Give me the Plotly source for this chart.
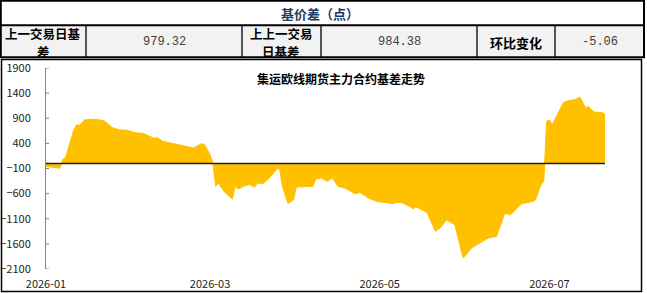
import plotly.graph_objects as go

# ---------------- data ----------------
dates = [
    "2026-01-01", "2026-01-05", "2026-01-06", "2026-01-07", "2026-01-08", "2026-01-11",
    "2026-01-12", "2026-01-13", "2026-01-15", "2026-01-19", "2026-01-22", "2026-01-25",
    "2026-01-27", "2026-01-29", "2026-01-30", "2026-02-02", "2026-02-05", "2026-02-07",
    "2026-02-09", "2026-02-10", "2026-02-12", "2026-02-23", "2026-02-26", "2026-02-27",
    "2026-03-01", "2026-03-02", "2026-03-03", "2026-03-04", "2026-03-06", "2026-03-09",
    "2026-03-10", "2026-03-11", "2026-03-13", "2026-03-15", "2026-03-17", "2026-03-18",
    "2026-03-20", "2026-03-22", "2026-03-25", "2026-03-26", "2026-03-27", "2026-03-29",
    "2026-03-31", "2026-04-01", "2026-04-02", "2026-04-07", "2026-04-08", "2026-04-10",
    "2026-04-12", "2026-04-14", "2026-04-16", "2026-04-19", "2026-04-22", "2026-04-24",
    "2026-04-27", "2026-04-30", "2026-05-06", "2026-05-07", "2026-05-09", "2026-05-12",
    "2026-05-13", "2026-05-14", "2026-05-18", "2026-05-21", "2026-05-23", "2026-05-25",
    "2026-05-28", "2026-05-30", "2026-05-31", "2026-06-01", "2026-06-03", "2026-06-07",
    "2026-06-09", "2026-06-12", "2026-06-15", "2026-06-17", "2026-06-21", "2026-06-25",
    "2026-06-26", "2026-06-28", "2026-06-29", "2026-06-30", "2026-07-01", "2026-07-02",
    "2026-07-06", "2026-07-07", "2026-07-08", "2026-07-10", "2026-07-12", "2026-07-14",
    "2026-07-15", "2026-07-17", "2026-07-20", "2026-07-21",
]
basis = [
    -60, -80, -95, 80, 110, 670,
    770, 760, 870, 880, 845, 710,
    675, 660, 665, 610, 600, 545,
    500, 515, 440, 310, 395, 375,
    175, 10, -455, -390, -555, -705,
    -455, -510, -455, -420, -470, -390,
    -400, -310, -110, -105, -455, -800,
    -720, -470, -465, -455, -310, -285,
    -355, -290, -455, -500, -600, -580,
    -690, -755, -800, -775, -780, -860,
    -905, -860, -975, -1350, -1270, -1120,
    -1220, -1650, -1880, -1815, -1680, -1550,
    -1485, -1450, -985, -1020, -800, -755,
    -720, -420, -355, 840, 870, 770,
    1205, 1235, 1250, 1270, 1320, 1105,
    1135, 1025, 1010, 979.32,
]

table_title = "基价差（点）"
table_labels = [["上一交易日基", "差"], ["上上一交易", "日基差"], ["环比变化"]]
table_values = ["979.32", "984.38", "-5.06"]
chart_title = "集运欧线期货主力合约基差走势"

y_ticks = [1900, 1400, 900, 400, -100, -600, -1100, -1600, -2100]

# ---------------- geometry helpers (pixel -> paper) ----------------
W, H = 647, 293
L, R, T, B = 46, 605, 68, 269


def px(x):
    return (x - L) / (R - L)


def py(y):
    return (B - y) / (B - T)


fig = go.Figure()

fig.add_trace(go.Scatter(
    x=dates, y=basis, mode="lines", fill="tozeroy",
    line=dict(color="#FFC000", width=1), fillcolor="#FFC000",
    hoverinfo="skip", showlegend=False,
))

shapes = []
annotations = []

# table background row 2
shapes.append(dict(type="rect", xref="paper", yref="paper",
                   x0=px(0.5), x1=px(644), y0=py(25.5), y1=py(57),
                   fillcolor="#F2F2F2", line=dict(width=0), layer="below"))
# outer table border
shapes.append(dict(type="rect", xref="paper", yref="paper",
                   x0=px(0.8), x1=px(644), y0=py(0.8), y1=py(57.3),
                   line=dict(color="black", width=2)))
# row separator
shapes.append(dict(type="line", xref="paper", yref="paper",
                   x0=px(0.8), x1=px(644), y0=py(25.3), y1=py(25.3),
                   line=dict(color="black", width=2)))
# column separators
for cx in [86, 242, 321, 477, 555]:
    shapes.append(dict(type="line", xref="paper", yref="paper",
                       x0=px(cx), x1=px(cx), y0=py(25.3), y1=py(57.3),
                       line=dict(color="black", width=1.3)))
# chart border
shapes.append(dict(type="rect", xref="paper", yref="paper",
                   x0=px(1.5), x1=px(641.5), y0=py(59.5), y1=py(291.5),
                   line=dict(color="black", width=1.5)))
# zero line
shapes.append(dict(type="line", xref="paper", yref="y",
                   x0=0, x1=1, y0=0, y1=0,
                   line=dict(color="#222222", width=1.5), layer="above"))
# small inward tick marks on the y axis line
for v in y_ticks:
    shapes.append(dict(type="line", xref="paper", yref="y",
                       x0=0, x1=px(L + 3), y0=v, y1=v,
                       line=dict(color="#868686", width=1)))

# table texts
annotations.append(dict(text="<b>" + table_title + "</b>", xref="paper", yref="paper",
                        x=px(320), y=py(13), showarrow=False,
                        font=dict(size=13, color="#1F3864", family="Noto Sans CJK SC"),
                        xanchor="center", yanchor="middle"))
label_centers = [43, 281, 516]
value_centers = [164, 399, 600]
for lines, val, lx, vx in zip(table_labels, table_values, label_centers, value_centers):
    if len(lines) == 1:
        ys = [42.5]
        fs = 13
    else:
        ys = [33.5, 51.5]
        fs = 12.5
    for txt, ty in zip(lines, ys):
        annotations.append(dict(text="<b>" + txt + "</b>", xref="paper", yref="paper",
                                x=px(lx), y=py(ty), showarrow=False, borderpad=0,
                                font=dict(size=fs, color="black", family="Noto Sans CJK SC"),
                                xanchor="center", yanchor="middle"))
    annotations.append(dict(text=val, xref="paper", yref="paper",
                            x=px(vx), y=py(42.5), showarrow=False,
                            font=dict(size=12, color="#404040", family="Liberation Mono"),
                            xanchor="center", yanchor="middle"))

annotations.append(dict(text="<b>" + chart_title + "</b>", xref="paper", yref="paper",
                        x=px(341), y=py(78), showarrow=False,
                        font=dict(size=12, color="black", family="Noto Sans CJK SC"),
                        xanchor="center", yanchor="middle"))

fig.update_layout(
    width=W, height=H,
    margin=dict(l=L, r=W - R, t=T, b=H - B, autoexpand=False),
    paper_bgcolor="white", plot_bgcolor="white",
    shapes=shapes, annotations=annotations,
    font=dict(family="Noto Sans CJK SC", size=11, color="#222222"),
    xaxis=dict(
        type="date", range=["2026-01-01", "2026-07-21"],
        tick0="2026-01-01", dtick="M2", tickformat="%Y-%m",
        showgrid=False, showline=False, zeroline=False, automargin=False,
        ticks="outside", ticklen=5, tickcolor="rgba(0,0,0,0)",
        tickfont=dict(size=11, color="#222222"),
    ),
    yaxis=dict(
        range=[-2100, 1900], tickvals=y_ticks, automargin=False,
        showgrid=False, zeroline=False,
        showline=True, linecolor="#868686", linewidth=1,
        ticks="outside", ticklen=12, tickcolor="rgba(0,0,0,0)",
        tickfont=dict(size=11, color="#222222"),
    ),
)

fig.write_html("out.html")
